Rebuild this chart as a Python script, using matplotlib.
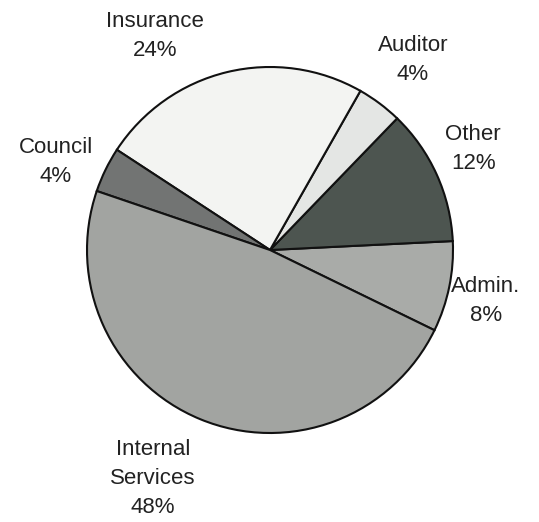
import numpy as np
import matplotlib
matplotlib.use("Agg")
import matplotlib.pyplot as plt

plt.rcParams["font.family"] = ["Liberation Sans", "DejaVu Sans"]

# Budget shares, counter-clockwise from the Admin wedge
CATEGORIES = ["Admin.", "Other", "Auditor", "Insurance", "Council", "Internal\nServices"]
SHARES = [8, 12, 4, 24, 4, 48]
COLORS = ["#a9aba8", "#4d5550", "#e4e6e4", "#f3f4f2", "#727473", "#a2a4a1"]

# Label anchor points in pie-radius units
LABEL_POS = [(1.18, -0.28), (1.11, 0.55), (0.78, 1.04),
             (-0.63, 1.17), (-1.17, 0.48), (-0.64, -1.25)]

CX, CY, R = 270, 250, 183  # pie centre and radius, pixels
W, H = 539, 522

fig = plt.figure(figsize=(W / 100, H / 100), dpi=100)
ax = fig.add_axes([0, 0, 1, 1])
ax.pie(SHARES, colors=COLORS, startangle=-26, counterclock=True,
       radius=1.0, wedgeprops=dict(edgecolor="#111111", linewidth=1.5))

for name, pct, (lx, ly) in zip(CATEGORIES, SHARES, LABEL_POS):
    ax.text(lx, ly, f"{name}\n{pct}%", ha="center", va="center",
            fontsize=16, color="#222222", linespacing=1.5)

ax.set_xlim(-CX / R, (W - CX) / R)
ax.set_ylim(-(H - CY) / R, CY / R)
ax.set_aspect("equal")
ax.axis("off")

fig.savefig("out.png", dpi=100, facecolor="white")
